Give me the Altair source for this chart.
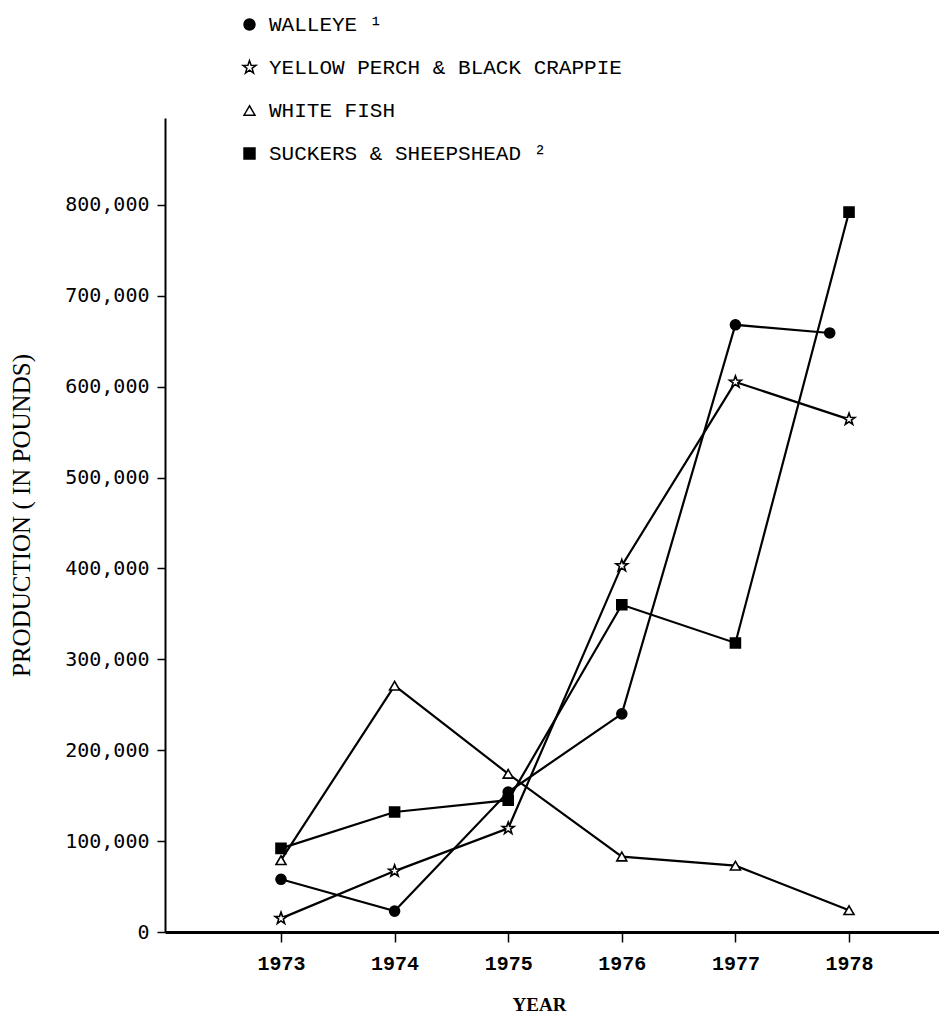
import altair as alt
import pandas as pd

# ---- data ----
series_names = [
    "WALLEYE \u00b9",
    "YELLOW PERCH & BLACK CRAPPIE",
    "WHITE FISH",
    "SUCKERS & SHEEPSHEAD \u00b2",
]
years = [1973, 1974, 1975, 1976, 1977, 1978]
walleye_years = [1973, 1974, 1975, 1976, 1977, 1977.83]
walleye = [58000, 23000, 154000, 240000, 668000, 659000]
perch = [15000, 67000, 114000, 403000, 605000, 564000]
whitefish = [79000, 271000, 174000, 83000, 73000, 24000]
suckers = [92000, 132000, 145000, 360000, 318000, 792000]
y_ticks = [0, 100000, 200000, 300000, 400000, 500000, 600000, 700000, 800000]

star_path = ("M0,-1.25L0.294,-0.405L1.189,-0.386L0.475,0.155L0.735,1.011L0,0.5"
             "L-0.735,1.011L-0.475,0.155L-1.189,-0.386L-0.294,-0.405Z")
shapes = ["circle", star_path, "triangle-up", "square"]
fills = ["black", "white", "white", "black"]

rows = []
for name, xs, vals in [
    (series_names[0], walleye_years, walleye),
    (series_names[1], years, perch),
    (series_names[2], years, whitefish),
    (series_names[3], years, suckers),
]:
    for xv, v in zip(xs, vals):
        rows.append({"series": name, "year": xv, "value": v})
df = pd.DataFrame(rows)

x_enc = alt.X(
    "year:Q",
    scale=alt.Scale(domain=[1971.979, 1978.792], nice=False, zero=False),
    axis=alt.Axis(
        values=years, format="d", title="YEAR",
        labelFont="Liberation Mono", labelFontWeight="bold", labelFontSize=20,
        labelPadding=11, tickSize=10, tickWidth=1.5, domainWidth=3,
        titleFont="Liberation Serif", titleFontWeight="bold", titleFontSize=19,
        titleX=374, titleY=72, titleBaseline="middle", titleAlign="center",
    ),
)
y_enc = alt.Y(
    "value:Q",
    scale=alt.Scale(domain=[0, 895500], nice=False),
    axis=alt.Axis(
        values=y_ticks, format=",d", title="PRODUCTION ( IN POUNDS)",
        labelFont="DejaVu Sans Mono", labelFontSize=20, labelPadding=8,
        tickSize=8, tickWidth=1.5, domainWidth=2,
        titleFont="Liberation Serif", titleFontWeight="normal", titleFontSize=25,
        titleX=-144, titleY=397, titleAngle=270, titleBaseline="middle",
        titleAlign="center",
    ),
)

legend_kw = dict(
    orient="none", legendX=74, legendY=-104, title=None, padding=0,
    labelFont="Liberation Mono", labelFontSize=21, labelColor="black",
    labelLimit=0,
    symbolSize=120, symbolStrokeColor="black", symbolStrokeWidth=1.5,
    rowPadding=21, labelOffset=9,
)

base = alt.Chart(df)
lines = base.mark_line(color="black", strokeWidth=2.2).encode(
    x=x_enc, y=y_enc, detail="series:N", order="year:Q"
)
points = base.mark_point(
    filled=True, stroke="black", strokeWidth=1.6, size=100, opacity=1
).encode(
    x=x_enc,
    y=y_enc,
    color=alt.Color("series:N",
                    scale=alt.Scale(domain=series_names, range=fills),
                    legend=alt.Legend(**legend_kw)),
    shape=alt.Shape("series:N",
                    scale=alt.Scale(domain=series_names, range=shapes),
                    legend=alt.Legend(**legend_kw)),
)

chart = (
    alt.layer(lines, points)
    .properties(
        width=774, height=814,
        autosize=alt.AutoSizeParams(type="none"),
        padding={"left": 157, "top": 110, "right": 0, "bottom": 81},
        background="white",
    )
    .configure_view(stroke=None)
    .configure_axis(grid=False, domainColor="black", tickColor="black",
                    labelColor="black", titleColor="black")
)

chart.save("out.html", embed_options={"renderer": "svg", "actions": False})
